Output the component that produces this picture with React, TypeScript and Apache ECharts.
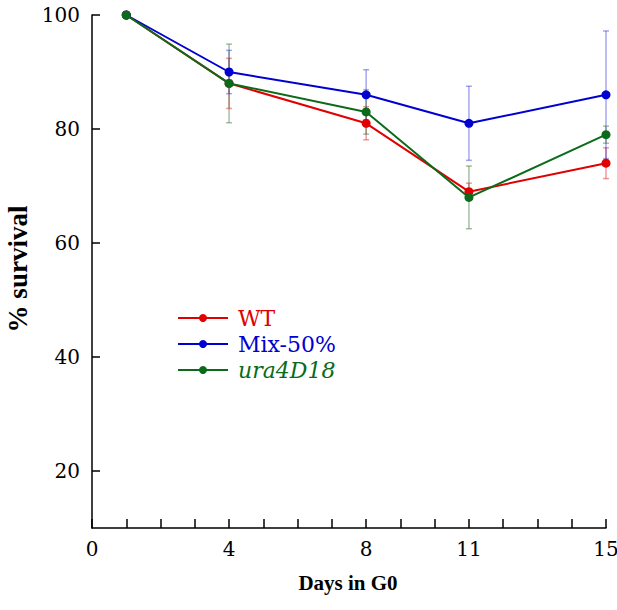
import React, { useEffect, useRef } from "react";
import * as echarts from "echarts";

const days = [1, 4, 8, 11, 15];
const wtValues = [100, 88, 81, 69, 74];
const wtErrors = [0, 4.4, 2.9, 1.5, 2.7];
const mixValues = [100, 90, 86, 81, 86];
const mixErrors = [0, 3.8, 4.4, 6.5, 11.2];
const uraValues = [100, 88, 83, 68, 79];
const uraErrors = [0, 6.9, 3.9, 5.5, 1.5];
const xTickLabels = [0, 4, 8, 11, 15];
const yTickLabels = [20, 40, 60, 80, 100];
const seriesNames = ["WT", "Mix-50%", "ura4D18"];

const RED = "#e00000";
const BLUE = "#0000d0";
const GREEN = "#0b6b1a";
const TITLE_FONT = "Liberation Serif";
const LABEL_FONT = "DejaVu Serif";

function errData(vals: number[], errs: number[]) {
  return days
    .map((d, i) => [d, vals[i] - errs[i], vals[i] + errs[i]])
    .filter((_, i) => errs[i] > 0);
}

function errSeries(name: string, vals: number[], errs: number[], color: string) {
  return {
    name,
    type: "custom",
    z: 1,
    silent: true,
    encode: { x: 0, y: [1, 2] },
    data: errData(vals, errs),
    renderItem: (params: any, api: any) => {
      const x = api.value(0);
      const lo = api.coord([x, api.value(1)]);
      const hi = api.coord([x, api.value(2)]);
      const w = 3;
      const style = { stroke: color, lineWidth: 1.5 };
      return {
        type: "group",
        children: [
          { type: "line", shape: { x1: lo[0], y1: lo[1], x2: hi[0], y2: hi[1] }, style },
          { type: "line", shape: { x1: lo[0] - w, y1: lo[1], x2: lo[0] + w, y2: lo[1] }, style },
          { type: "line", shape: { x1: hi[0] - w, y1: hi[1], x2: hi[0] + w, y2: hi[1] }, style },
        ],
      };
    },
  };
}

function lineSeries(name: string, vals: number[], color: string) {
  return {
    name,
    type: "line",
    z: 3,
    data: days.map((d, i) => [d, vals[i]]),
    symbol: "circle",
    symbolSize: 9,
    color,
    lineStyle: { width: 2, color },
    itemStyle: { color },
  };
}

export default function App() {
  const ref = useRef<HTMLDivElement>(null);
  useEffect(() => {
    if (!ref.current) return;
    const chart = echarts.init(ref.current, undefined, { renderer: "svg" });
    chart.setOption({
      animation: false,
      backgroundColor: "#ffffff",
      grid: { left: 92, right: 11, top: 15, bottom: 82, outerBoundsMode: "none", containLabel: false },
      xAxis: {
        type: "value",
        min: 0,
        max: 15,
        interval: 1,
        splitLine: { show: false },
        axisLine: { lineStyle: { color: "#000", width: 1.5 } },
        axisTick: { inside: true, length: 9, lineStyle: { color: "#000", width: 1.5 } },
        axisLabel: {
          customValues: xTickLabels,
          color: "#000",
          fontFamily: LABEL_FONT,
          fontSize: 20,
          margin: 11,
        },
      },
      yAxis: {
        type: "value",
        min: 10,
        max: 100,
        splitLine: { show: false },
        axisLine: { show: true, lineStyle: { color: "#000", width: 1.5 } },
        axisTick: {
          show: true,
          inside: true,
          length: 8,
          customValues: yTickLabels,
          lineStyle: { color: "#000", width: 1.5 },
        },
        axisLabel: {
          customValues: yTickLabels,
          color: "#000",
          fontFamily: LABEL_FONT,
          fontSize: 20,
          margin: 12,
        },
      },
      legend: {
        orient: "vertical",
        left: 177,
        top: 307,
        padding: 0,
        itemWidth: 50,
        itemHeight: 10,
        itemGap: 4,
        selectedMode: false,
        textStyle: { fontFamily: LABEL_FONT, fontSize: 22, padding: [0, 0, 0, 5] },
        data: [
          { name: seriesNames[0], textStyle: { color: RED, fontFamily: LABEL_FONT, fontSize: 22 } },
          { name: seriesNames[1], textStyle: { color: BLUE, fontFamily: LABEL_FONT, fontSize: 22 } },
          {
            name: seriesNames[2],
            textStyle: { color: GREEN, fontStyle: "italic", fontFamily: LABEL_FONT, fontSize: 22 },
          },
        ],
      },
      graphic: [
        {
          type: "text",
          x: 348,
          y: 583,
          style: {
            text: "Days in G0",
            font: `bold 21px ${TITLE_FONT}`,
            fill: "#000",
            textAlign: "center",
            textVerticalAlign: "middle",
          },
        },
        {
          type: "text",
          x: 18,
          y: 269,
          rotation: Math.PI / 2,
          style: {
            text: "% survival",
            font: `bold 27px ${TITLE_FONT}`,
            fill: "#000",
            textAlign: "center",
            textVerticalAlign: "middle",
          },
        },
      ],
      series: [
        errSeries("WT-err", wtValues, wtErrors, "rgba(224,0,0,0.4)"),
        errSeries("Mix-err", mixValues, mixErrors, "rgba(0,0,208,0.35)"),
        errSeries("ura-err", uraValues, uraErrors, "rgba(60,110,60,0.45)"),
        lineSeries(seriesNames[0], wtValues, RED),
        lineSeries(seriesNames[1], mixValues, BLUE),
        lineSeries(seriesNames[2], uraValues, GREEN),
      ],
    });
    return () => chart.dispose();
  }, []);
  return (
    <div
      ref={ref}
      style={{ position: "fixed", left: 0, top: 0, width: 617, height: 610 }}
    />
  );
}
